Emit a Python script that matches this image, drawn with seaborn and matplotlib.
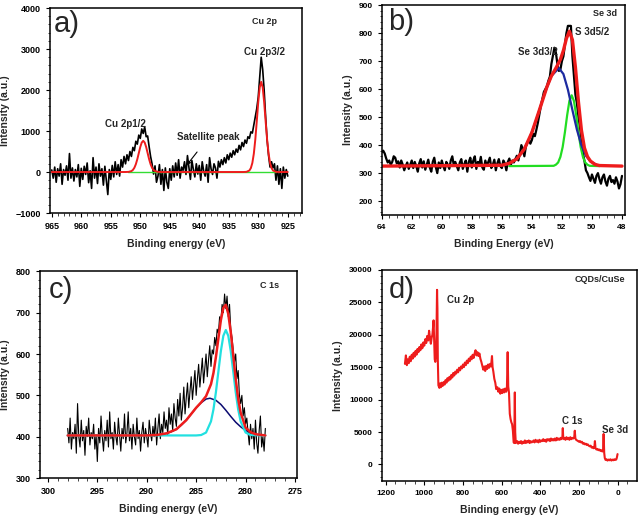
# plot.py
# XPS panels a)-d) (Cu 2p, Se 3d, C 1s, survey) -> out.png (641x517)

import numpy as np
import pandas as pd
import matplotlib.pyplot as plt
import seaborn as sns

# ---------------- a) Cu 2p ----------------
cu_be = np.linspace(965, 925, 161)
cu_raw = [50, -150, 120, -250, 80, -100, 200, -300, 60, -80,
          150, -200, 450, -150, 100, -220, 60, -120, 180, -350,
          90, -180, 140, -60, 220, -260, 30, -400, 350, -150,
          120, -280, 200, -100, 80, -320, 140, -200, -550, 60,
          -180, 160, -120, 250, -60, 180, -100, 300, 120, 380,
          200, 420, 280, 500, 380, 600, 520, 750, 680, 900,
          820, 1050, 940, 1100, 860, 880, 620, 380, 200, -50,
          150, -250, -100, 180, -300, 60, -450, 100, -250, -400,
          80, -200, 150, -120, 220, -80, 300, -150, 120, 40,
          250, -60, 400, 100, -180, 280, 60, -120, 200, -50,
          160, -200, 250, 20, -100, 180, -250, 350, 80, -60,
          200, 100, -150, 260, 120, 300, 180, 350, 220, 420,
          300, 460, 360, 520, 420, 560, 480, 650, 540, 720,
          620, 780, 700, 860, 820, 980, 950, 1150, 1340, 1550,
          1830, 2300, 2800, 2500, 2000, 1350, 780, 400, 120, 250,
          100, 200, -200, 150, -300, 80, -400, 120, -150, 60, -100]
cu_fit_be = [965, 952.5, 952, 951.5, 951.25, 951, 950.75, 950.5, 950.25, 950,
             949.75, 949.5, 949.25, 949, 948.75, 948.5, 948.25, 948, 947.75,
             947.5, 947, 946.5,
             932.5, 932, 931.5, 931.25, 931, 930.75, 930.5, 930.25, 930,
             929.75, 929.5, 929.25, 929, 928.75, 928.5, 928.25, 928, 927.75,
             927.5, 927, 926.5, 925]
cu_fit = [0, 0, 3, 22, 50, 103, 190, 312, 461, 609,
          719, 760, 719, 609, 461, 312, 190, 103, 50,
          22, 3, 0,
          0, 4, 37, 97, 222, 447, 793, 1239, 1705,
          2064, 2200, 2064, 1705, 1239, 793, 447, 222, 97,
          37, 4, 0, 0]
cu_base_be = [952, 927]
cu_base = [0, 0]

# ---------------- b) Se 3d ----------------
se_be = np.linspace(64, 48, 161)
se_raw = [375, 380, 370, 352, 338, 345, 330, 340, 360, 355,
          335, 342, 320, 345, 330, 310, 325, 338, 315, 330,
          345, 318, 340, 325, 305, 335, 350, 320, 342, 312,
          330, 348, 320, 305, 340, 355, 322, 300, 338, 318,
          345, 325, 310, 340, 330, 315, 345, 360, 328, 340,
          325, 310, 338, 350, 315, 332, 345, 305, 340, 355,
          320, 345, 360, 315, 340, 330, 358, 320, 312, 345,
          325, 340, 355, 318, 330, 348, 310, 335, 350, 325,
          318, 345, 335, 310, 340, 352, 330, 345, 338, 350,
          362, 345, 370, 400, 385, 360, 395, 410, 420, 405,
          418, 440, 432, 455, 480, 510, 540, 565, 590, 600,
          610, 630, 645, 690, 720, 748, 730, 690, 665, 670,
          700, 717, 760, 800, 826, 826, 826, 717, 650, 580,
          549, 500, 465, 420, 370, 344, 310, 300, 285, 272,
          295, 280, 265, 290, 300, 278, 262, 285, 295, 270,
          255, 280, 290, 268, 275, 262, 285, 270, 245, 260, 290]
se_fit_be = [64, 56, 55.5, 55, 54.5, 54, 53.5, 53, 52.7, 52.4, 52.1, 51.9,
             51.7, 51.5, 51.3, 51.1, 50.9, 50.7, 50.5, 50.3, 50.1, 49.8, 49.5, 48]
se_fit = [325, 328, 335, 351, 386, 445, 525, 608, 647, 675, 706, 738,
          781, 807, 776, 678, 555, 453, 390, 359, 343, 331, 327, 325]
se32_be = [55.7, 55.2, 54.7, 54.2, 53.7, 53.2, 52.7, 52.2, 51.9, 51.6,
           51.3, 51.0, 50.7, 50.4, 50.1, 49.7]
se32 = [331, 343, 370, 418, 491, 577, 647, 675, 654, 598,
        525, 455, 399, 362, 342, 330]
se52_be = [55.5, 52.55, 52.4, 52.25, 52.1, 51.95, 51.8, 51.65, 51.5, 51.35,
           51.2, 51.05, 50.9, 50.75, 50.6, 50.45, 50.3, 50.15, 49.5]
se52 = [325, 326, 330, 338, 358, 393, 446, 507, 558, 578,
        558, 507, 446, 393, 358, 338, 330, 326, 325]

# ---------------- c) C 1s ----------------
c_be = np.linspace(298, 278, 161)
c_raw = [420, 385, 445, 370, 410, 395, 430, 360, 480, 400,
         375, 440, 390, 415, 355, 425, 400, 445, 380, 410,
         395, 430, 370, 405, 340, 420, 385, 450, 400, 365,
         415, 390, 440, 375, 460, 395, 410, 370, 435, 400,
         380, 445, 405, 365, 420, 395, 455, 385, 410, 460,
         390, 420, 370, 430, 400, 380, 445, 395, 415, 365,
         410, 435, 385, 420, 400, 375, 440, 410, 390, 425,
         400, 445, 380, 420, 455, 395, 430, 410, 460, 420,
         440, 405, 470, 430, 455, 415, 480, 445, 425, 490,
         450, 505, 440, 470, 520, 455, 495, 530, 470, 510,
         545, 490, 525, 560, 500, 540, 575, 520, 555, 590,
         530, 565, 600, 545, 585, 620, 570, 610, 600, 640,
         620, 660, 650, 690, 680, 720, 700, 745, 710, 740,
         690, 720, 660, 640, 610, 580, 600, 540, 560, 500,
         480, 500, 450, 470, 430, 445, 410, 380, 430, 395,
         420, 370, 440, 385, 360, 415, 450, 375, 400, 365, 420]
c_fit_be = [298, 290, 289, 288, 287, 286, 285.5, 285, 284.5, 284, 283.5,
            283.25, 283, 282.75, 282.5, 282.25, 282, 281.75, 281.5, 281.25,
            281, 280.75, 280.5, 280, 279.5, 279, 278]
c_fit = [403, 403, 404, 408, 418, 440, 455, 470, 483, 498, 527,
         554, 593, 638, 682, 712, 719, 697, 653, 596,
         540, 492, 458, 422, 411, 406, 403]
c_oxy_be = [290, 289, 288, 287.5, 287, 286.5, 286, 285.5, 285, 284.5, 284,
            283.6, 283, 282.5, 282, 281.5, 281, 280.5, 280, 279.5, 279]
c_oxy = [403, 404, 408, 412, 418, 428, 440, 455, 470, 482, 491,
         493, 488, 478, 464, 449, 435, 424, 415, 410, 406]
c_cc_be = [298, 285, 284.5, 284, 283.5, 283.25, 283, 282.75, 282.5, 282.25,
           282, 281.75, 281.5, 281.25, 281, 280.75, 280.5, 280, 279.5, 278]
c_cc = [403, 403, 404, 410, 437, 466, 508, 558, 607, 644,
        658, 644, 607, 558, 508, 466, 437, 410, 404, 403]

# ---------------- d) survey ----------------
sv_be = [1100, 1095, 1090, 1085, 1080, 1075, 1070, 1065, 1060, 1055,
         1050, 1045, 1040, 1035, 1030, 1025, 1020, 1015, 1010, 1005,
         1000, 995, 990, 985, 980, 975, 970, 966, 962, 958,
         955, 952, 949, 946, 943, 940, 937, 934, 932, 930,
         927, 922, 918, 914, 910, 905, 900, 895, 890, 885,
         880, 875, 870, 865, 860, 855, 850, 845, 840, 835,
         830, 825, 820, 815, 810, 805, 800, 795, 790, 785,
         780, 775, 770, 765, 760, 755, 750, 745, 740, 735,
         730, 725, 720, 715, 710, 705, 700, 695, 690, 685,
         680, 675, 670, 665, 660, 655, 650, 647, 643, 638,
         633, 628, 622, 617, 612, 607, 602, 597, 592, 587,
         582, 577, 573, 569, 566, 562, 558, 554, 550, 546,
         542, 538, 535, 532, 530, 527, 520, 515, 510, 505,
         500, 495, 490, 485, 480, 475, 470, 465, 460, 455,
         450, 445, 440, 435, 430, 425, 420, 415, 410, 405,
         400, 395, 390, 385, 380, 375, 370, 365, 360, 355,
         350, 345, 340, 335, 330, 325, 320, 315, 310, 305,
         300, 295, 290, 286, 284, 282, 278, 274, 270, 265,
         260, 255, 250, 245, 240, 235, 230, 225, 222, 219,
         215, 210, 205, 200, 195, 190, 185, 180, 175, 170,
         165, 160, 155, 150, 145, 140, 135, 130, 125, 121,
         118, 115, 110, 105, 100, 95, 90, 85, 80, 76,
         73, 70, 67, 63, 58, 53, 48, 43, 38, 33,
         28, 23, 18, 13, 8, 5, 3, 1]
sv_counts = [15500, 16800, 15300, 16200, 15600, 16600, 15900, 16900, 16300, 17200,
             16600, 17500, 16900, 17800, 17300, 18100, 17600, 18500, 17900, 18800,
             18300, 19300, 18700, 19800, 19100, 20600, 19400, 18600, 19500, 20000,
             21000, 22200, 19000, 16200, 15800, 16500, 20000, 26900, 24000, 16000,
             12200, 11800, 12500, 11900, 12600, 12100, 12700, 12300, 13000, 12600,
             13300, 12900, 13500, 13100, 13800, 13400, 14100, 13700, 14300, 14000,
             14600, 14200, 14900, 14500, 15100, 14800, 15400, 15000, 15700, 15300,
             16000, 15600, 16300, 15900, 16600, 16200, 16900, 16400, 17100, 17600,
             16800, 17300, 16700, 17100, 16300, 15800, 15200, 14600, 15100, 14400,
             15200, 14700, 15400, 14900, 15500, 15100, 16700, 15000, 14300, 13200,
             12600, 11600, 11900, 11200, 11700, 10900, 11500, 11000, 11600, 11100,
             11700, 11200, 11600, 17300, 12000, 11000, 7800, 7000, 6500, 6200,
             5200, 3400, 3300, 11100, 5000, 3300, 3600, 3200, 3500, 3300,
             3600, 3200, 3500, 3300, 3700, 3300, 3600, 3400, 3700, 3300,
             3600, 3400, 3500, 3700, 3400, 3800, 3500, 3700, 3400, 3800,
             3500, 3700, 3600, 3900, 3600, 3800, 3500, 3900, 3700, 3900,
             3600, 4000, 3700, 3900, 3700, 4000, 3700, 4100, 3800, 4000,
             3800, 4100, 3900, 4300, 5600, 4200, 3900, 4100, 3800, 4200,
             3900, 4100, 3800, 4200, 3900, 4100, 4000, 4200, 5200, 4000,
             3800, 3700, 3600, 3500, 3600, 3400, 3500, 3200, 3300, 3100,
             3200, 3000, 3100, 2900, 2800, 2900, 2600, 2700, 2500, 2600,
             3600, 2500, 2300, 2400, 2200, 2300, 2100, 2200, 2000, 2100,
             4700, 1800, 1000, 700, 800, 600, 750, 650, 800, 600,
             750, 650, 800, 700, 750, 1000, 1300, 1600]

# ---------------- style ----------------
sns.set_theme(style="ticks")
plt.rcParams["font.family"] = ["Liberation Sans", "DejaVu Sans"]
plt.rcParams["font.weight"] = "bold"
plt.rcParams["axes.labelweight"] = "bold"

RED = "#ee1c1c"
fig = plt.figure(figsize=(6.41, 5.17), dpi=100)
fig.patch.set_facecolor("white")

ax_a = fig.add_axes([0.078, 0.588, 0.393, 0.3965])
ax_b = fig.add_axes([0.5955, 0.584, 0.3795, 0.406])
ax_c = fig.add_axes([0.0624, 0.0754, 0.4009, 0.3998])
ax_d = fig.add_axes([0.5955, 0.0702, 0.3978, 0.4081])


def line(ax, x, y, color, lw):
    sns.lineplot(x=list(x), y=list(y), ax=ax, color=color, linewidth=lw,
                 sort=False, estimator=None)


def style(ax, xlabel, tick_size):
    for s in ax.spines.values():
        s.set_visible(True)
        s.set_color("black")
        s.set_linewidth(1.1)
    ax.tick_params(which="major", direction="out", length=3, width=0.8,
                   labelsize=tick_size, colors="black")
    ax.tick_params(which="minor", direction="out", length=1.8, width=0.6)
    ax.set_xlabel(xlabel, fontsize=7.5, fontweight="bold", labelpad=6)
    ax.set_ylabel("Intensity (a.u.)", fontsize=7.5, fontweight="bold", labelpad=4)
    for lab in ax.get_xticklabels() + ax.get_yticklabels():
        lab.set_fontweight("bold")


# a)
line(ax_a, cu_be, cu_raw, "black", 1.2)
line(ax_a, cu_base_be, cu_base, "#33dd33", 1.0)
line(ax_a, cu_fit_be, cu_fit, RED, 1.4)
ax_a.set_xlim(965.3, 922.6)
ax_a.set_ylim(-1000, 4000)
ax_a.set_xticks(np.arange(965, 924, -5))
ax_a.set_yticks(np.arange(-1000, 4001, 1000))
ax_a.minorticks_on()
style(ax_a, "Binding energy (eV)", 6.5)
ax_a.text(0.013, 0.92, "a)", transform=ax_a.transAxes, fontsize=21,
          fontweight="normal", va="center", ha="left")
ax_a.text(926.9, 3660, "Cu 2p", fontsize=6.5, ha="right", va="center")
ax_a.text(928.9, 2930, "Cu 2p3/2", fontsize=7, ha="center", va="center")
ax_a.text(952.5, 1170, "Cu 2p1/2", fontsize=7, ha="center", va="center")
ax_a.annotate("Satellite peak", xy=(942.1, 170), xytext=(938.4, 850),
              fontsize=7, ha="center", va="center",
              arrowprops=dict(arrowstyle="-|>", color="black", lw=0.8,
                              mutation_scale=5, shrinkA=6, shrinkB=0))

# b)
line(ax_b, se_be, se_raw, "black", 1.6)
line(ax_b, se52_be, se52, "#22dd22", 1.6)
line(ax_b, se32_be, se32, "#1c2aa0", 1.6)
line(ax_b, se_fit_be, se_fit, RED, 2.4)
ax_b.set_xlim(64.0, 47.8)
ax_b.set_ylim(150, 900)
ax_b.set_xticks(np.arange(64, 47, -2))
ax_b.set_yticks(np.arange(200, 901, 100))
ax_b.minorticks_on()
style(ax_b, "Binding Energy (eV)", 6)
ax_b.text(0.027, 0.92, "b)", transform=ax_b.transAxes, fontsize=21,
          fontweight="normal", va="center", ha="left")
ax_b.text(48.3, 870, "Se 3d", fontsize=6.5, ha="right", va="center")
ax_b.text(51.1, 805, "S 3d5/2", fontsize=7, ha="left", va="center")
ax_b.text(52.3, 733, "Se 3d3/2", fontsize=7, ha="right", va="center")

# c)
line(ax_c, c_be, c_raw, "black", 0.8)
line(ax_c, c_oxy_be, c_oxy, "#0a0a70", 1.1)
line(ax_c, c_cc_be, c_cc, "#22e0e0", 1.6)
line(ax_c, c_fit_be, c_fit, RED, 1.8)
ax_c.set_xlim(300.8, 274.8)
ax_c.set_ylim(300, 800)
ax_c.set_xticks(np.arange(300, 274, -5))
ax_c.set_yticks(np.arange(300, 801, 100))
ax_c.minorticks_on()
style(ax_c, "Binding energy (eV)", 6.5)
ax_c.text(0.036, 0.91, "c)", transform=ax_c.transAxes, fontsize=21,
          fontweight="normal", va="center", ha="left")
ax_c.text(0.93, 0.93, "C 1s", transform=ax_c.transAxes, fontsize=6.5,
          ha="right", va="center")

# d)
line(ax_d, sv_be, sv_counts, RED, 1.5)
ax_d.set_xlim(1220, -98)
ax_d.set_ylim(-2500, 30000)
ax_d.set_xticks(np.arange(1200, -1, -200))
ax_d.set_yticks(np.arange(0, 30001, 5000))
ax_d.minorticks_on()
style(ax_d, "Binding energy (eV)", 6)
ax_d.text(0.026, 0.905, "d)", transform=ax_d.transAxes, fontsize=21,
          fontweight="normal", va="center", ha="left")
ax_d.text(-38, 28460, "CQDs/CuSe", fontsize=6.5, ha="right", va="center")
ax_d.text(885, 25400, "Cu 2p", fontsize=7, ha="left", va="center")
ax_d.text(235, 6770, "C 1s", fontsize=7, ha="center", va="center")
ax_d.text(14, 5290, "Se 3d", fontsize=7, ha="center", va="center")

fig.savefig("out.png", dpi=100, facecolor="white")
plt.close(fig)
